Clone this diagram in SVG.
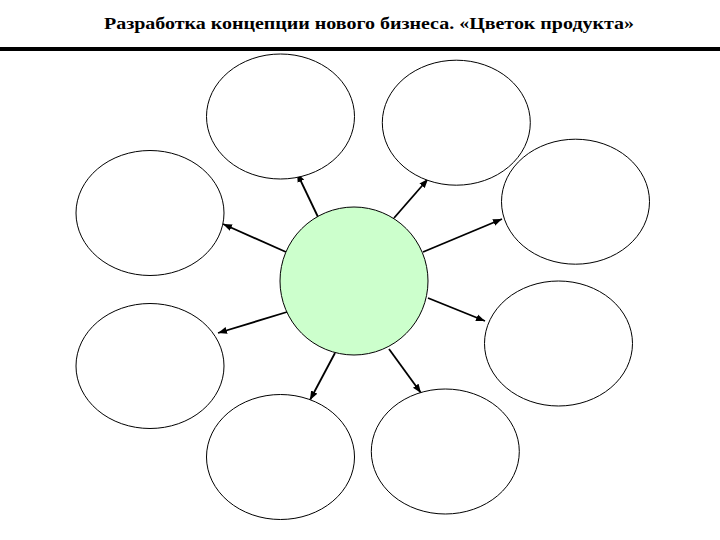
<svg xmlns="http://www.w3.org/2000/svg" width="720" height="540" viewBox="0 0 720 540">
  <style>
    .petal { fill: #ffffff; stroke: #000000; stroke-width: 1; }
    .core { fill: #ccffcc; stroke: #000000; stroke-width: 1; }
    .conn { stroke: #000000; stroke-width: 1.8; fill: none; marker-end: url(#arrow); }
    .title { font-family: "Liberation Serif", "Times New Roman", serif; font-weight: bold; font-size: 17px; fill: #000000; }
  </style>
  <defs>
    <marker id="arrow" markerUnits="userSpaceOnUse" markerWidth="10" markerHeight="8" refX="9" refY="4" orient="auto">
      <path d="M0,0.5 L9,4 L0,7.5 Z" fill="#000000"/>
    </marker>
  </defs>
  <rect x="0" y="0" width="720" height="540" fill="#ffffff"/>
  <g id="header">
    <text class="title" x="369" y="29" text-anchor="middle" textLength="530" lengthAdjust="spacingAndGlyphs">Разработка концепции нового бизнеса. «Цветок продукта»</text>
    <rect x="0" y="47" width="720" height="4" fill="#000000"/>
  </g>
  <g id="connectors">
    <line class="conn" x1="318" y1="217" x2="297" y2="173"/>
    <line class="conn" x1="394" y1="218" x2="428" y2="179"/>
    <line class="conn" x1="286" y1="252" x2="223" y2="224"/>
    <line class="conn" x1="423" y1="252" x2="502" y2="219"/>
    <line class="conn" x1="287" y1="312" x2="218" y2="333"/>
    <line class="conn" x1="428" y1="298" x2="485" y2="321"/>
    <line class="conn" x1="335" y1="353" x2="310" y2="400"/>
    <line class="conn" x1="389" y1="349" x2="421" y2="393"/>
  </g>
  <g id="petal-top-left"><ellipse class="petal" cx="280.5" cy="116.5" rx="74" ry="62.5"/></g>
  <g id="petal-top-right"><ellipse class="petal" cx="456.3" cy="122.7" rx="74" ry="62.5"/></g>
  <g id="petal-right-upper"><ellipse class="petal" cx="575.5" cy="201.7" rx="74" ry="62.5"/></g>
  <g id="petal-left-upper"><ellipse class="petal" cx="150" cy="213" rx="74" ry="62.5"/></g>
  <g id="petal-left-lower"><ellipse class="petal" cx="150" cy="366" rx="74" ry="62.5"/></g>
  <g id="petal-right-lower"><ellipse class="petal" cx="558.5" cy="343.5" rx="74" ry="62.5"/></g>
  <g id="petal-bottom-left"><ellipse class="petal" cx="280.5" cy="457" rx="74" ry="62.5"/></g>
  <g id="petal-bottom-right"><ellipse class="petal" cx="445.3" cy="451.5" rx="74" ry="62.5"/></g>
  <g id="core"><circle class="core" cx="354" cy="281" r="74"/></g>
</svg>
